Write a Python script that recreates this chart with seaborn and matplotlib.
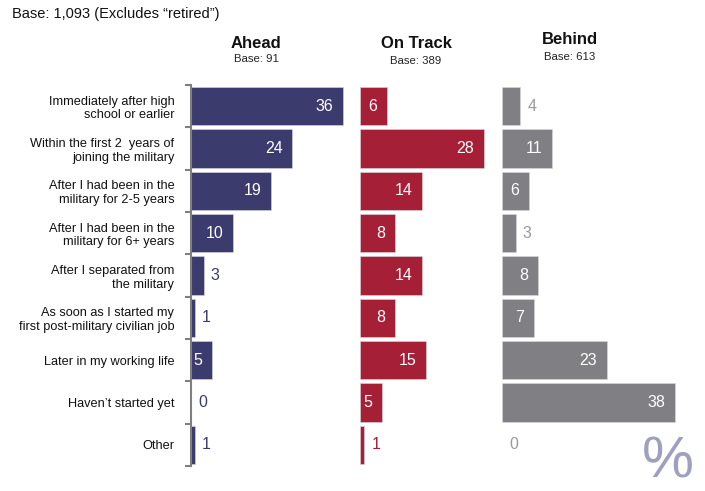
import matplotlib
matplotlib.use("Agg")
import matplotlib.pyplot as plt
import seaborn as sns
import pandas as pd
import numpy as np
from matplotlib.ticker import FixedLocator

sns.set_theme(style="white")
plt.rcParams['font.family'] = ['Liberation Sans', 'DejaVu Sans']

categories = [
    "Immediately after high\nschool or earlier",
    "Within the first 2  years of\njoining the military",
    "After I had been in the\nmilitary for 2-5 years",
    "After I had been in the\nmilitary for 6+ years",
    "After I separated from\nthe military",
    "As soon as I started my\nfirst post-military civilian job",
    "Later in my working life",
    "Haven\u2019t started yet",
    "Other",
]
ahead = [36, 24, 19, 10, 3, 1, 5, 0, 1]
on_track = [6, 28, 14, 8, 14, 8, 15, 5, 1]
behind = [4, 11, 6, 3, 8, 7, 23, 38, 0]
groups = ["Ahead", "On Track", "Behind"]
bases = ["Base: 91", "Base: 389", "Base: 613"]

W, H = 705, 491
fig = plt.figure(figsize=(W / 100, H / 100), dpi=100)

# panel geometry in pixels: (left, right, xmax)
panels = [
    (191, 355, 164 / 4.22),
    (360, 495, 135 / 4.43),
    (502, 690, 188 / 4.55),
]
colors = ["#3c3b6e", "#a51f36", "#808084"]
out_colors = ["#3c3b6e", "#a51f36", "#9a9a9e"]
series = [ahead, on_track, behind]
top_px, bot_px = 85, 466

for i, (l, r, xmax) in enumerate(panels):
    ax = fig.add_axes([l / W, 1 - bot_px / H, (r - l) / W, (bot_px - top_px) / H])
    df = pd.DataFrame({"cat": categories, "val": series[i]})
    sns.barplot(data=df, x="val", y="cat", ax=ax, color=colors[i],
                orient="h", width=0.9, edgecolor="#d8d8e0", linewidth=0.4,
                saturation=1)
    for p in ax.patches:
        if p.get_width() == 0:
            p.set_linewidth(0)
    ax.set_xlim(0, xmax)
    ax.set_ylim(len(categories) - 0.5, -0.5)
    ax.set_xlabel("")
    ax.set_ylabel("")
    ax.set_xticks([])
    for s in ["top", "right", "bottom"]:
        ax.spines[s].set_visible(False)
    if i == 0:
        ax.spines["left"].set_color("#7f7f7f")
        ax.spines["left"].set_linewidth(1.5)
        ax.tick_params(axis="y", which="major", length=0, pad=12,
                       labelsize=9.2, labelcolor="#111111")
        ax.yaxis.set_minor_locator(FixedLocator(np.arange(-0.5, len(categories), 1.0)))
        ax.tick_params(axis="y", which="minor", length=4, width=1.5,
                       color="#7f7f7f", direction="out", left=True)
        for t in ax.get_yticklabels():
            t.set_horizontalalignment("right")
            t.set_multialignment("right")
    else:
        ax.spines["left"].set_visible(False)
        ax.set_yticks([])
    for j, v in enumerate(series[i]):
        if v >= 5:
            ax.annotate(str(v), xy=(v, j), xytext=(-7, 0), textcoords="offset points",
                        ha="right", va="center", color="white", fontsize=11.5)
        else:
            ax.annotate(str(v), xy=(v, j), xytext=(5, 0), textcoords="offset points",
                        ha="left", va="center", color=out_colors[i], fontsize=11.5)

# headers
hdr = [(256, 43, 59), (416, 43, 61), (570, 40, 57)]
for (x, y1, y2), g, b in zip(hdr, groups, bases):
    fig.text(x / W, 1 - y1 / H, g, ha="center", va="center", fontsize=12,
             fontweight="bold", color="#111111")
    fig.text(x / W, 1 - y2 / H, b, ha="center", va="center", fontsize=8.2,
             color="#222222")

fig.text(12 / W, 1 - 14 / H, "Base: 1,093 (Excludes \u201cretired\u201d)", ha="left",
         va="center", fontsize=10.5, color="#111111")
fig.text(668 / W, 1 - 490 / H, "%", ha="center", va="bottom", fontsize=42,
         color="#9f9fc0")

fig.savefig("out.png", dpi=100)
